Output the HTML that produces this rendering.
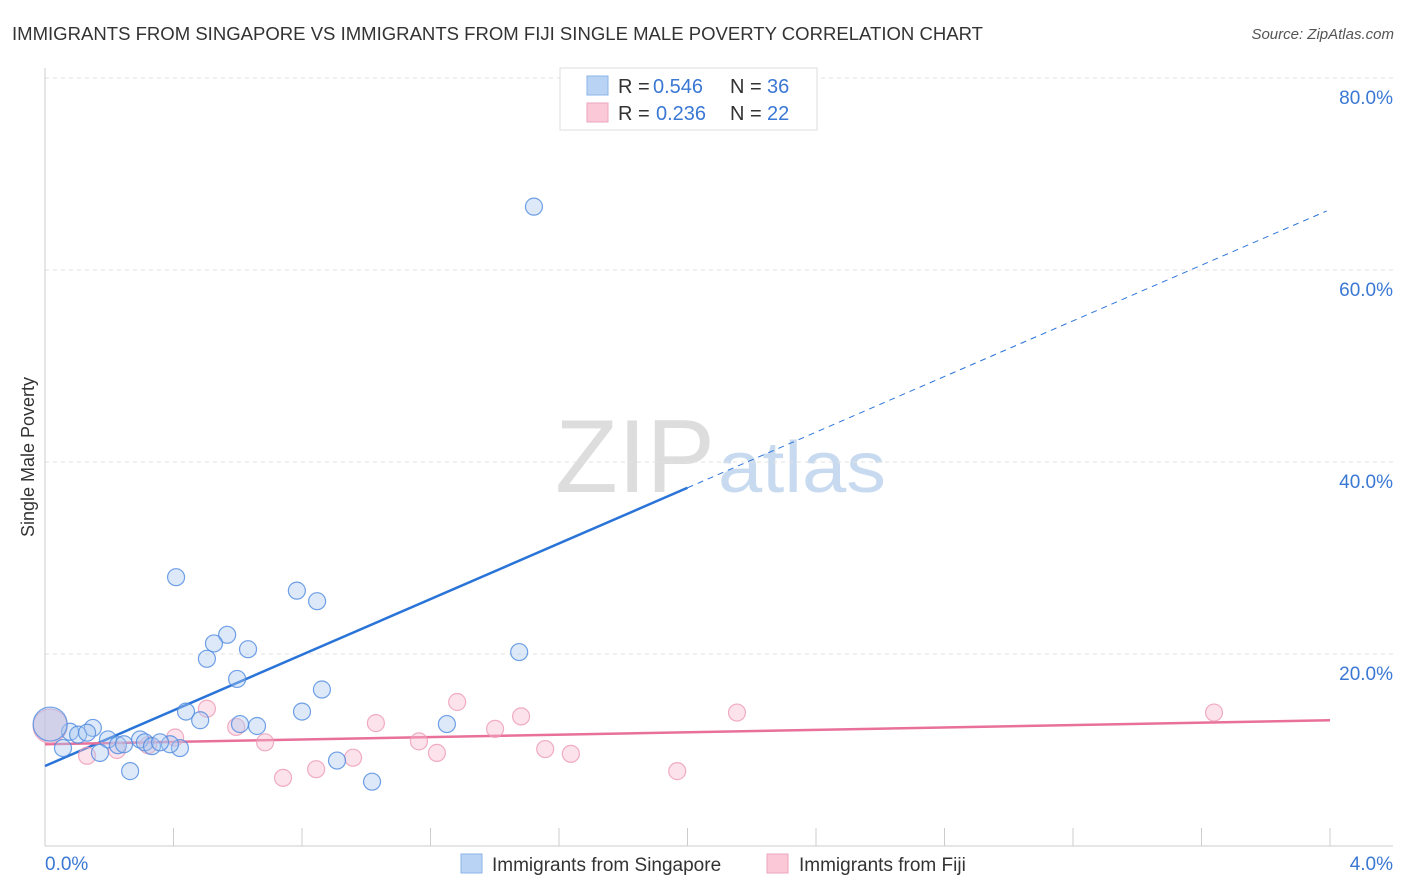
<!DOCTYPE html>
<html><head><meta charset="utf-8">
<style>
body{margin:0;background:#fff;font-family:"Liberation Sans",sans-serif;}
#wrap{position:relative;width:1406px;height:892px;overflow:hidden;}
svg text{font-family:"Liberation Sans",sans-serif;}
</style></head>
<body>
<div id="wrap">
<svg id="chart" width="1406" height="892" xmlns="http://www.w3.org/2000/svg">
<text x="12" y="40" font-size="18" fill="#333" textLength="971" lengthAdjust="spacingAndGlyphs">IMMIGRANTS FROM SINGAPORE VS IMMIGRANTS FROM FIJI SINGLE MALE POVERTY CORRELATION CHART</text>
<text x="1394" y="39" font-size="15" fill="#555" text-anchor="end" font-style="italic">Source: ZipAtlas.com</text>
<text x="555" y="492" font-size="104" fill="#ddd" textLength="160" lengthAdjust="spacingAndGlyphs" font-family="Liberation Serif">ZIP</text>
<text x="718" y="492" font-size="72" fill="#c8daf0" textLength="168" lengthAdjust="spacingAndGlyphs">atlas</text>
<text transform="translate(34,457) rotate(-90)" font-size="18" fill="#333" text-anchor="middle">Single Male Poverty</text>
<g id="grid"></g><g id="axes"></g><g id="trend"></g><g id="pts"></g>
<g>
<rect x="560" y="68" width="257" height="62" fill="#fff" stroke="#ddd"/>
<rect x="587" y="76" width="21" height="19" fill="#b9d3f5" stroke="#8ab4e8"/>
<rect x="587" y="103" width="21" height="19" fill="#fbc8d8" stroke="#eea6bd"/>
<text x="618" y="93" font-size="20" fill="#333">R =</text>
<text x="653" y="93" font-size="20" fill="#3a78d4">0.546</text>
<text x="730" y="93" font-size="20" fill="#333">N =</text>
<text x="767" y="93" font-size="20" fill="#3a78d4">36</text>
<text x="618" y="120" font-size="20" fill="#333">R =</text>
<text x="656" y="120" font-size="20" fill="#3a78d4">0.236</text>
<text x="730" y="120" font-size="20" fill="#333">N =</text>
<text x="767" y="120" font-size="20" fill="#3a78d4">22</text>
</g>
<g>
<rect x="461" y="854" width="21" height="19" fill="#b9d3f5" stroke="#8ab4e8"/>
<text x="492" y="871" font-size="19" fill="#333">Immigrants from Singapore</text>
<rect x="767" y="854" width="21" height="19" fill="#fbc8d8" stroke="#eea6bd"/>
<text x="799" y="871" font-size="19" fill="#333">Immigrants from Fiji</text>
</g>
</svg>
</div>
<script>
const yTicks=[20,40,60,80];
const xTickLabels=["0.0%","4.0%"];
const sgX=[1.522,0.408,0.784,0.847,1.476,0.567,0.526,0.632,0.504,0.598,0.862,0.439,0.800,0.483,0.607,0.660,1.251,0.149,0.078,0.103,0.196,0.296,0.311,0.227,0.333,0.420,0.056,0.171,0.265,0.909,1.018,0.016,0.131,0.389,0.358,0.246];
const sgY=[66.6,28.0,26.6,25.5,20.2,22.0,21.1,20.5,19.5,17.4,16.3,14.0,14.0,13.1,12.7,12.5,12.7,12.3,11.9,11.6,11.1,11.1,10.8,10.5,10.4,10.2,10.2,9.7,7.8,8.9,6.7,12.7,11.8,10.6,10.8,10.6];
const fjX=[3.639,2.154,1.283,1.482,0.504,1.030,1.401,0.595,0.685,1.164,1.557,1.637,1.220,0.405,0.224,0.131,0.321,0.741,0.844,0.959,1.968,0.016];
const fjY=[13.9,13.9,15.0,13.5,14.3,12.8,12.2,12.4,10.8,10.9,10.1,9.6,9.7,11.3,10.0,9.4,10.5,7.1,8.0,9.2,7.8,12.5];
const sgTrend=[8.33,66.3];
const fjTrend=[10.6,13.1];
const NS="http://www.w3.org/2000/svg";
const X=v=>45+v/4*1285, Y=v=>846-v*9.6;
function mk(p,t,a){const e=document.createElementNS(NS,t);for(const k in a)e.setAttribute(k,a[k]);p.appendChild(e);return e;}
const grid=document.getElementById('grid'),axes=document.getElementById('axes'),trend=document.getElementById('trend'),pts=document.getElementById('pts');
yTicks.forEach(t=>{
 const l=mk(grid,'line',{x1:45,x2:1393,y1:Y(t),y2:Y(t),stroke:'#e2e2e2','stroke-dasharray':'4,4'});
 
 
 const tx=mk(axes,'text',{x:1393,y:Y(t)+26,'font-size':19,fill:'#3a78d4','text-anchor':'end'});
 tx.textContent=t.toFixed(1)+'%';
 
 
});
const xa=mk(axes,'line',{x1:45,x2:1393,y1:846,y2:846,stroke:'#ccc'});


const ya=mk(axes,'line',{x1:45,x2:45,y1:68,y2:846,stroke:'#ccc'});


for(let i=1;i<=10;i++){const px=45+i*128.5;const tk=mk(axes,'line',{x1:px,x2:px,y1:828,y2:846,stroke:'#ccc'});
 
 }
[[xTickLabels[0],45,'start'],[xTickLabels[1],1393,'end']].forEach(([s,x,a])=>{const t=mk(axes,'text',{x:x,y:870,'font-size':19,fill:'#3a78d4','text-anchor':a});t.textContent=s;
 
 });
const y2=v=>sgTrend[0]+(sgTrend[1]-sgTrend[0])*v/4;
const t1=mk(trend,'line',{x1:X(0),y1:Y(y2(0)),x2:X(2),y2:Y(y2(2)),stroke:'#2a74d8','stroke-width':2.5});


const t2=mk(trend,'line',{x1:X(2),y1:Y(y2(2)),x2:X(3.99),y2:Y(y2(3.99)),stroke:'#2a74d8','stroke-width':1,'stroke-dasharray':'6,5'});


const t3=mk(trend,'line',{x1:X(0),y1:Y(fjTrend[0]),x2:X(4),y2:Y(fjTrend[1]),stroke:'#e8709a','stroke-width':2.5});


function dots(xs,ys,fill,stroke,name){xs.forEach((x,i)=>{const big=x<0.03;
 const c=mk(pts,'circle',{cx:X(x),cy:Y(ys[i]),r:big?17:8.5,fill:fill,'fill-opacity':big?0.5:0.4,stroke:stroke,'stroke-opacity':0.8,'stroke-width':1.2});
 
 });}
dots(fjX,fjY,'#f7b8cc','#ec9ab5','fiji-point');
dots(sgX,sgY,'#a9c8f0','#4d8ae0','singapore-point');
</script>
</body></html>
